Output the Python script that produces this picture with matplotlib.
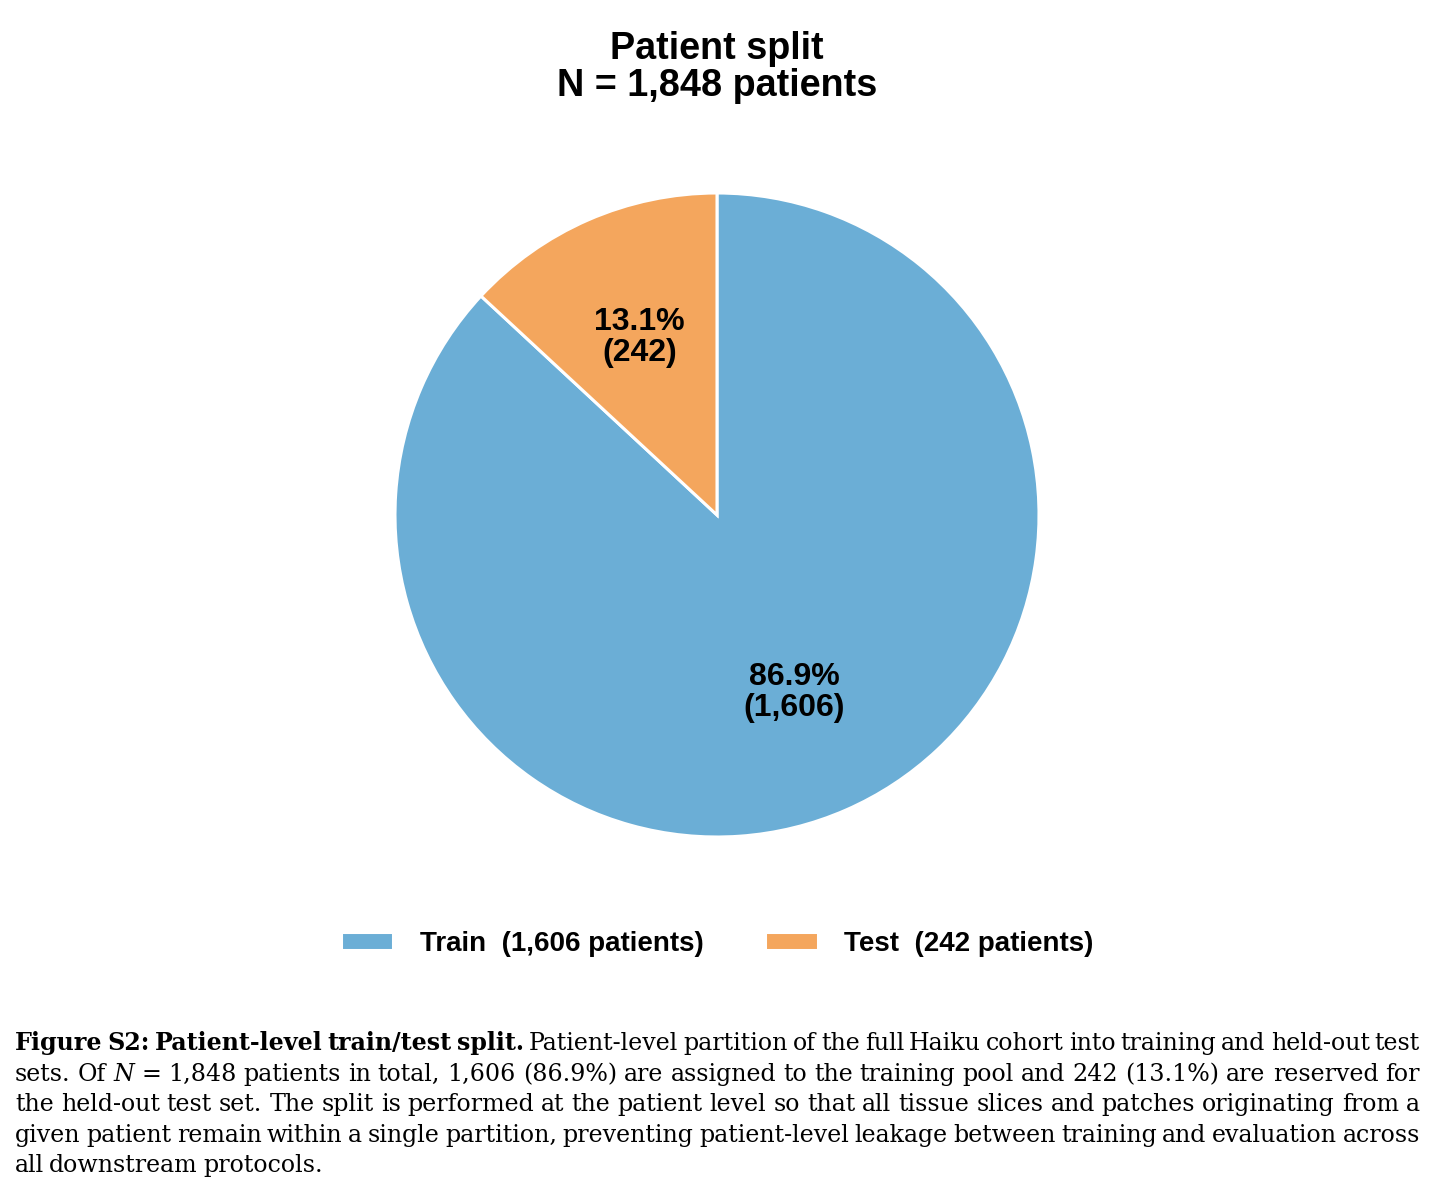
import matplotlib
matplotlib.use("Agg")
import matplotlib.pyplot as plt

# data
labels = ["Train", "Test"]
counts = [1606, 242]
colors = ["#6baed6", "#f4a65d"]
total = sum(counts)

plt.rcParams['font.family'] = ['Liberation Sans', 'DejaVu Sans']

W, H = 1435, 1203
fig = plt.figure(figsize=(W / 100, H / 100), dpi=100)

# pie axes: centre (717, 515) px, radius 322 px
cx, cy, r = 717, 515, 322
ax = fig.add_axes([(cx - r) / W, 1 - (cy + r) / H, 2 * r / W, 2 * r / H])


def fmt(pct):
    n = int(round(pct * total / 100.0))
    return "{:.1f}%\n({:,})".format(pct, n)


wedges, texts, autotexts = ax.pie(
    counts, colors=colors, startangle=90, counterclock=False,
    autopct=fmt, pctdistance=0.6,
    wedgeprops=dict(edgecolor="white", linewidth=2.2),
    textprops=dict(fontsize=23, fontweight="bold", color="black"))
for t in autotexts:
    t.set_linespacing(1.05)
ax.set_xlim(-1, 1)
ax.set_ylim(-1, 1)
ax.set_aspect("equal")
ax.axis("off")

fig.text(cx / W, 1 - 31 / H, "Patient split\nN = {:,} patients".format(total),
         ha="center", va="top", fontsize=27.2, fontweight="bold", linespacing=1.05)

leg_labels = ["{}  ({:,} patients)".format(l, c) for l, c in zip(labels, counts)]
fig.legend(wedges, leg_labels, loc="center", bbox_to_anchor=(cx / W, 1 - 944 / H),
           ncol=2, frameon=False, prop=dict(size=20, weight="bold"),
           handlelength=1.9, handleheight=0.6, handletextpad=0.95, columnspacing=2.2)

# caption, justified line by line
B, I, R = "bold", "italic", "normal"
cap_lines = [
    [("Figure", B), ("S2:", B), ("Patient-level", B), ("train/test", B), ("split.", B),
     ("Patient-level", R), ("partition", R), ("of", R), ("the", R), ("full", R), ("Haiku", R),
     ("cohort", R), ("into", R), ("training", R), ("and", R), ("held-out", R), ("test", R)],
    [("sets.", R), ("Of", R), ("N", I), ("=", R), ("1,848", R), ("patients", R), ("in", R),
     ("total,", R), ("1,606", R), ("(86.9%)", R), ("are", R), ("assigned", R), ("to", R),
     ("the", R), ("training", R), ("pool", R), ("and", R), ("242", R), ("(13.1%)", R),
     ("are", R), ("reserved", R), ("for", R)],
    [(w, R) for w in "the held-out test set. The split is performed at the patient level so that all tissue slices and patches originating from a".split()],
    [(w, R) for w in "given patient remain within a single partition, preventing patient-level leakage between training and evaluation across".split()],
    [(w, R) for w in "all downstream protocols.".split()],
]
x0, x1 = 15, 1420
baselines = [1050, 1081, 1111, 1142, 1172]
serif = ['DejaVu Serif']
renderer = fig.canvas.get_renderer()


def draw_words(words, yb, size):
    objs = []
    for w, sty in words:
        t = fig.text(0, yb, w, ha="left", va="baseline", fontsize=size, family=serif,
                     fontweight="bold" if sty == B else "normal",
                     fontstyle="italic" if sty == I else "normal")
        objs.append(t)
    return objs, [t.get_window_extent(renderer).width for t in objs]


# pick a size so the last line is as wide as in the reference (~310 px),
# but keep at least 4 px between words on the full lines
probe, pw = draw_words(cap_lines[-1], 0, 10)
size = 10 * (310 - 2 * 5) / sum(pw)
for t in probe:
    t.remove()
for words in cap_lines[:-1]:
    objs, ws = draw_words(words, 0, size)
    need = sum(ws) + 4 * (len(ws) - 1)
    if need > x1 - x0:
        size *= (x1 - x0 - 4 * (len(ws) - 1)) / sum(ws)
    for t in objs:
        t.remove()

for k, words in enumerate(cap_lines):
    objs, widths = draw_words(words, 1 - baselines[k] / H, size)
    if k < len(cap_lines) - 1:
        gap = (x1 - x0 - sum(widths)) / (len(objs) - 1)
    else:
        gap = 5.0
    x = x0
    for t, wd in zip(objs, widths):
        t.set_x(x / W)
        x += wd + gap

fig.savefig("out.png", dpi=100)
